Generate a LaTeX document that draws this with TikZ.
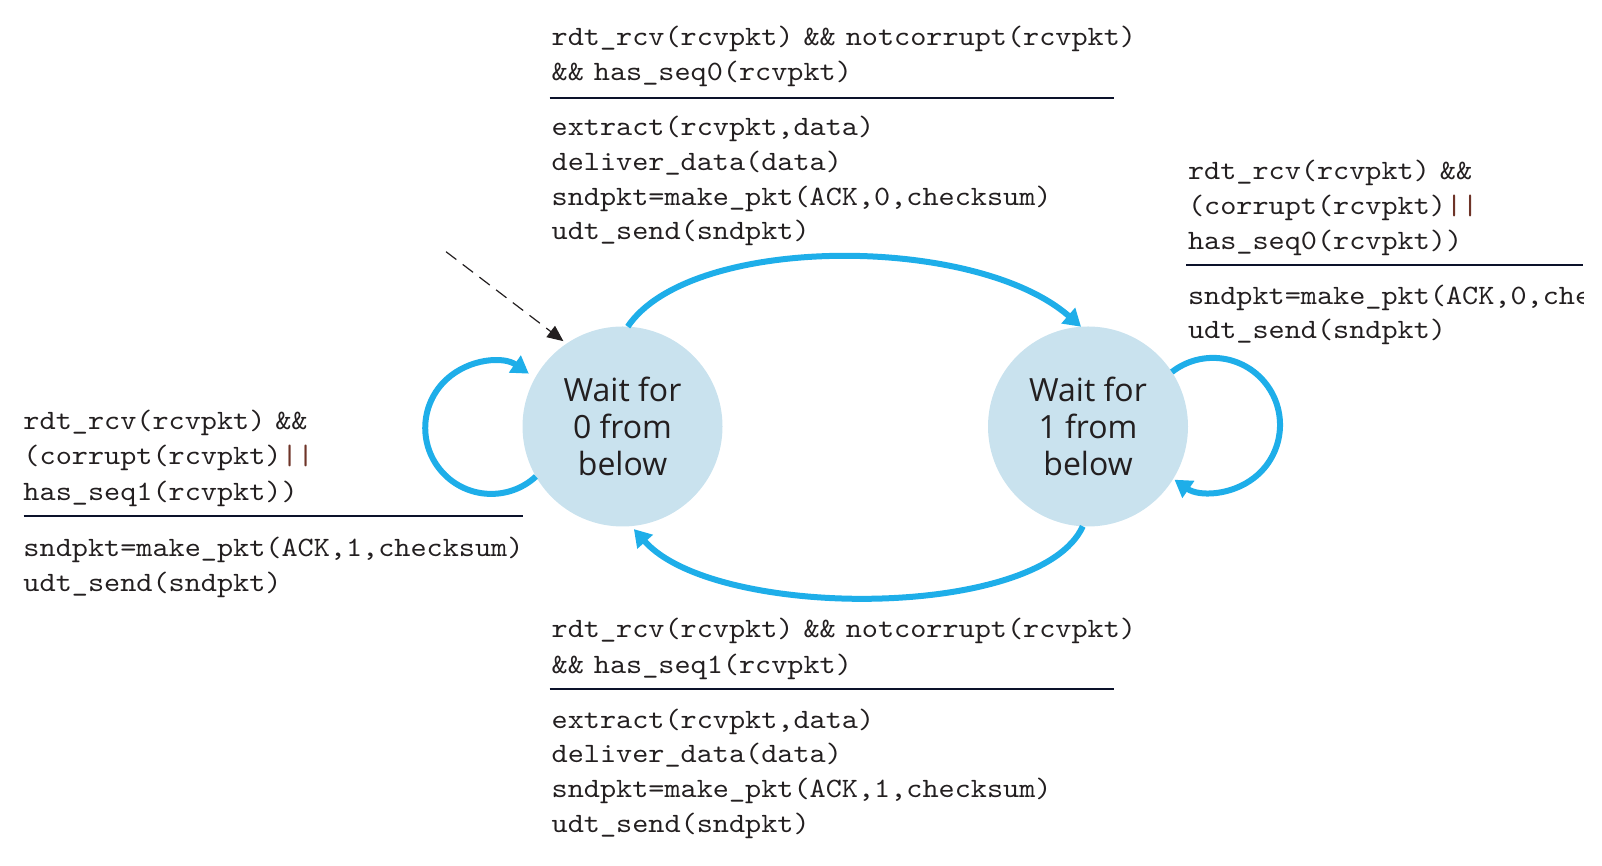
\documentclass[tikz,border=0pt]{standalone}
\usepackage{fontspec}
\usetikzlibrary{arrows.meta}
\setsansfont{Open Sans}
\newfontfamily\codefont{lmmono10-regular.otf}[FakeStretch=1.097]
\definecolor{statefill}{RGB}{201,226,238}
\definecolor{arcblue}{RGB}{30,174,233}
\definecolor{ink}{RGB}{35,31,32}
\definecolor{rulecol}{RGB}{12,18,42}
\definecolor{barbrown}{RGB}{110,52,40}
% compact "&&" as set in the guards
\newcommand\andop{\hspace{5pt}\&\&\hspace{5pt}}
\newcommand\andlead{\&\&\hspace{5pt}}
\newcommand\orbars{\textcolor{barbrown}{||}}
\begin{document}
\begin{tikzpicture}[x=0.5pt,y=0.5pt,
  state/.style={circle, fill=statefill, minimum size=100pt, inner sep=0pt, outer sep=0pt,
    text=ink, align=center, font=\sffamily\fontsize{16}{18.3}\selectfont},
  code/.style={anchor=base west, inner sep=0pt, outer sep=0pt, text=ink,
    font=\codefont\fontsize{14}{17}\selectfont},
  bar/.style={draw=rulecol, line width=1pt},
  trans/.style={draw=arcblue, line width=3pt, -{Triangle[length=8.5pt,width=10pt]}},
  init/.style={draw=ink, line width=0.6pt, dash pattern=on 6.5pt off 4pt,
    -{Triangle[length=8pt,width=7pt]}}]
\useasboundingbox (0,0) rectangle (1602,866);

% states
\node[state] (s0) at (622.5,439.5) {Wait for\\0 from\\below};
\node[state] (s1) at (1088,439.5) {Wait for\\1 from\\below};

% initial transition
\coordinate (init) at (446,614.3);
\draw[init, shorten >=2pt] (init) -- (s0.124.5);

% transitions between the states
\draw[trans] (s0.87) .. controls (690,632) and (975,632) .. (s1.94.4);
\draw[trans, shorten >=2pt] (s1.267.5) .. controls (1040,245.6) and (715,245.6) .. (s0.275);

% self loops
\draw[trans] (s0.210.6) arc[start angle=-47.4, delta angle=-257.3, radius=33pt];
\draw[trans] (s1.33.8) arc[start angle=127.9, delta angle=-253, radius=33.5pt];

% 0 -> 1 label
\node[code] (g01a) at (551.7,820.2) {rdt\_rcv(rcvpkt)\andop notcorrupt(rcvpkt)};
\node[code] (g01b) at (551.7,785.5) {\andlead has\_seq0(rcvpkt)};
\draw[bar] (549.7,768) -- (1113.7,768);
\node[code] (a01a) at (551.7,730.3) {extract(rcvpkt,data)};
\node[code] (a01b) at (551.7,695.6) {deliver\_data(data)};
\node[code] (a01c) at (551.7,660.8) {sndpkt=make\_pkt(ACK,0,checksum)};
\node[code] (a01d) at (551.7,626.1) {udt\_send(sndpkt)};

% 1 -> 0 label
\node[code] (g10a) at (551.7,228.7) {rdt\_rcv(rcvpkt)\andop notcorrupt(rcvpkt)};
\node[code] (g10b) at (551.7,192.9) {\andlead has\_seq1(rcvpkt)};
\draw[bar] (549.7,177.4) -- (1113.7,177.4);
\node[code] (a10a) at (551.7,137.7) {extract(rcvpkt,data)};
\node[code] (a10b) at (551.7,103) {deliver\_data(data)};
\node[code] (a10c) at (551.7,68.3) {sndpkt=make\_pkt(ACK,1,checksum)};
\node[code] (a10d) at (551.7,33.5) {udt\_send(sndpkt)};

% loop on state 0
\node[code] (g00a) at (23.5,436.1) {rdt\_rcv(rcvpkt)\hspace{5pt}\&\&};
\node[code] (g00b) at (23.5,401.3) {(corrupt(rcvpkt)\orbars};
\node[code] (g00c) at (23.5,365.6) {has\_seq1(rcvpkt))};
\draw[bar] (23.5,350) -- (523,350);
\node[code] (a00a) at (23.5,309.4) {sndpkt=make\_pkt(ACK,1,checksum)};
\node[code] (a00b) at (23.5,274.6) {udt\_send(sndpkt)};

% loop on state 1 (runs off the right edge)
\begin{scope}
\clip (1150,500) rectangle (1583,720);
\node[code] (g11a) at (1188,686.4) {rdt\_rcv(rcvpkt)\hspace{5pt}\&\&};
\node[code] (g11b) at (1188,651.6) {(corrupt(rcvpkt)\orbars};
\node[code] (g11c) at (1188,616.9) {has\_seq0(rcvpkt))};
\draw[bar] (1186,601.4) -- (1582.6,601.4);
\node[code] (a11a) at (1188,561.7) {sndpkt=make\_pkt(ACK,0,checksum)};
\node[code] (a11b) at (1188,527) {udt\_send(sndpkt)};
\end{scope}
\end{tikzpicture}
\end{document}
